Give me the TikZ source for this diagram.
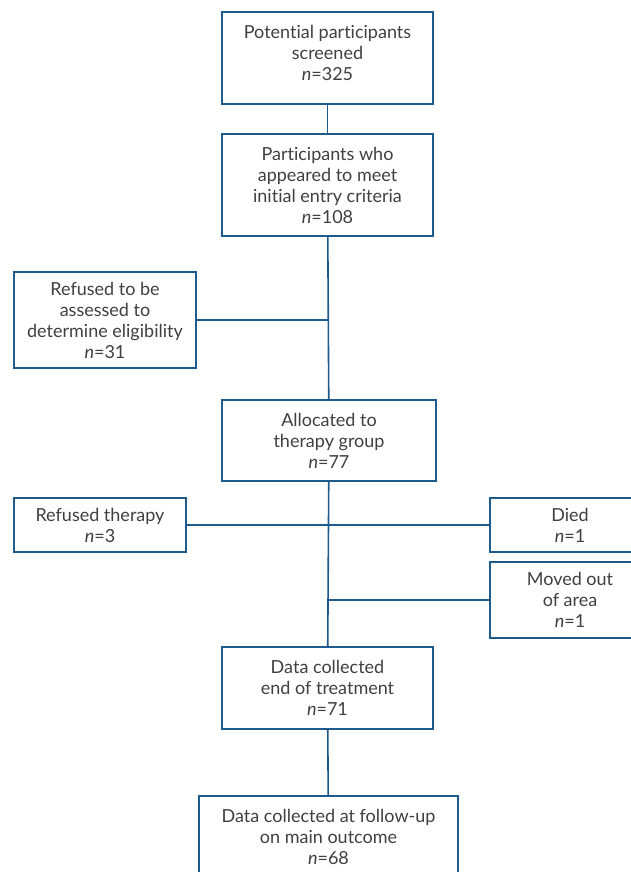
\documentclass[tikz,border=0pt]{standalone}
\usepackage{fontspec}
\setmainfont[Ligatures=NoCommon]{Lato}
\usetikzlibrary{positioning}
\definecolor{boxblue}{HTML}{1F5A8C}
\definecolor{txtgray}{HTML}{404040}
\tikzstyle{box}=[draw=boxblue,line width=1.6pt,text=txtgray,align=center,inner sep=0pt,font=\fontsize{18}{21}\selectfont]
\tikzstyle{edge} = [draw=boxblue,line width=1.6pt,-]

\begin{document}
\begin{tikzpicture}[x=1pt,y=1pt]
    % page frame, boxes on the right and at the bottom run past it
    \clip (0,0) rectangle (631,-872);
    \fill[white] (0,0) rectangle (631,-872);

    % the main column
    \node[box,minimum width=211pt,minimum height=92pt,text depth=10pt] (screened) at (327.5,-58) {Potential participants\\screened\\\textit{n}=325};
    \node[box,minimum width=211pt,minimum height=102pt] (appeared) at (327.5,-185) {Participants who\\appeared to meet\\initial entry criteria\\\textit{n}=108};
    \node[box,minimum width=214pt,minimum height=81pt] (allocated) at (329,-440.5) {Allocated to\\therapy group\\\textit{n}=77};
    \node[box,minimum width=211pt,minimum height=82pt] (endtreat) at (327.5,-688) {Data collected\\end of treatment\\\textit{n}=71};
    \node[box,minimum width=259pt,minimum height=88pt,text depth=6pt] (followup) at (328.5,-840) {Data collected at follow-up\\on main outcome\\\textit{n}=68};

    % the side boxes
    \node[box,minimum width=182pt,minimum height=96pt] (refusedassess) at (105,-320) {Refused to be\\assessed to\\determine eligibility\\\textit{n}=31};
    \node[box,minimum width=172pt,minimum height=54pt] (refusedtherapy) at (100,-525) {Refused therapy\\\textit{n}=3};
    \node[box,minimum width=160pt,minimum height=54pt] (died) at (570,-525) {Died\\\textit{n}=1};
    \node[box,minimum width=160pt,minimum height=76pt] (moved) at (570,-600) {Moved out\\of area\\\textit{n}=1};

    % connect the boxes
    \foreach \source/ \dest in {screened/appeared, appeared/allocated, allocated/endtreat, endtreat/followup}
        \path[edge] (\source) -- (\dest);
    \path[edge] (refusedassess.east) -- (refusedassess.east -| appeared.south);
    \path[edge] (refusedtherapy.east) -- (died.west);
    \path[edge] (moved.west) -- (moved.west -| allocated.south);

\end{tikzpicture}
\end{document}
